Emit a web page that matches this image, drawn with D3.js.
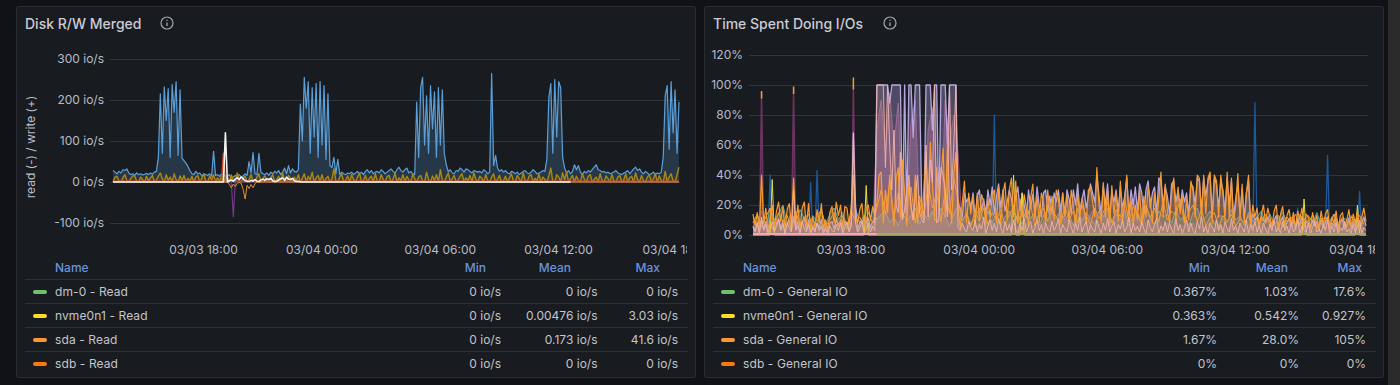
<!DOCTYPE html>
<html>
<head>
<meta charset="utf-8">
<script src="https://cdn.jsdelivr.net/npm/d3@7"></script>
<style>
  html, body { margin: 0; padding: 0; background: #111217; overflow: hidden; }
  svg { display: block; font-family: Inter, "Noto Sans", sans-serif; }
  .tick text { fill: #b9bcc6; font-size: 12px; font-family: Inter, sans-serif; }
  .tick line { stroke: rgba(204,204,220,0.15); }
  .domain { display: none; }
</style>
</head>
<body>
<svg id="chart"></svg>
<script>
// ───────────────── DATA : shared ─────────────────
const startTime = new Date(2024, 2, 3, 13, 26);
const stepMinutes = 6;
const timeTicks = [
  new Date(2024, 2, 3, 18, 0),
  new Date(2024, 2, 4, 0, 0),
  new Date(2024, 2, 4, 6, 0),
  new Date(2024, 2, 4, 12, 0),
  new Date(2024, 2, 4, 18, 0)
];

// ───────────────── DATA : Disk R/W Merged ─────────────────
const mergedTicks = [-100, 0, 100, 200, 300];

const mergedWriteBlue = [
  28,24,20,26,22,30,28,32,22,18,20,16,22,18,20,17,19,21,18,22,
  19,24,26,60,215,70,232,150,228,60,238,170,245,65,225,58,52,46,38,28,
  20,18,26,20,22,15,20,18,16,20,14,75,16,18,14,20,17,15,14,18,
  10,12,16,14,18,12,15,20,16,50,22,72,20,18,70,24,20,18,22,16,
  24,20,26,22,28,18,24,34,20,40,22,32,26,24,30,190,100,255,180,245,
  70,230,110,240,60,245,90,235,55,215,40,35,60,20,55,18,24,20,18,22,
  20,24,18,22,26,20,24,18,26,30,22,28,20,24,26,22,30,26,20,24,
  28,32,26,22,30,36,28,24,30,34,22,26,20,18,195,60,230,255,90,210,
  70,235,130,220,60,230,90,225,70,42,25,30,22,20,28,26,34,30,24,32,
  30,26,22,28,26,24,26,22,30,26,20,24,265,40,65,34,26,30,24,28,
  22,20,26,24,20,24,18,22,26,28,22,20,24,30,26,20,22,24,28,26,
  55,205,240,70,250,110,245,230,60,34,22,28,20,26,42,30,40,24,18,26,
  22,28,24,30,36,42,30,28,24,26,22,24,20,22,24,28,22,20,18,22,
  24,28,20,26,32,36,28,32,24,20,26,22,18,20,24,18,22,20,24,60,
  210,235,80,245,120,225,70,195
];

const mergedWriteOlive = [
  0,12,14,3,0,10,18,4,0,8,15,15,2,0,12,6,0,14,3,10,
  16,0,5,14,22,8,0,18,4,12,0,20,6,0,15,3,16,0,9,2,
  14,0,12,16,0,8,20,3,0,14,5,18,0,10,2,15,0,6,12,0,
  17,3,0,22,5,0,10,14,0,6,18,2,0,12,20,0,8,15,3,0,
  10,18,0,6,14,0,22,4,0,16,8,0,12,3,18,0,9,20,0,14,
  5,24,0,10,16,2,18,0,8,14,0,6,32,4,0,12,20,0,5,15,
  0,18,6,0,12,22,0,4,16,0,9,14,0,20,3,0,18,6,0,13,
  16,0,7,22,0,10,3,18,0,14,5,0,20,8,0,12,16,2,0,24,
  6,0,15,3,18,0,30,4,0,12,22,0,8,16,0,5,14,20,0,10,
  3,16,0,22,6,0,14,9,0,18,4,0,12,20,0,7,16,0,3,14,
  0,10,20,4,0,16,8,0,22,5,0,14,18,0,9,3,20,0,12,6,
  0,16,34,2,0,18,12,0,22,5,24,0,8,16,0,14,4,0,20,7,
  0,14,18,0,6,12,0,20,4,0,15,8,0,18,3,0,12,16,0,5,
  20,0,10,14,0,22,6,0,16,3,0,12,18,0,8,20,0,15,4,0,
  26,0,12,20,3,0,18,36
];

// sparse series: sample number + value
const mergedRedIdx = [0, 55, 56, 57, 287];
const mergedRedVals = [2, 2, 70, 2, 2];

const mergedWhiteIdx = [0,56,57,58,59,60,61,62,63,64,65,66,67,68,69,70,71,72,73,74,75,76,77,78,79,80,81,82,83,84,85,86,87,88,89,90,91,92,93,94,95,232];
const mergedWhiteVals = [0,0,120,0,3,5,2,7,10,6,12,8,3,2,1,4,2,6,2,1,5,7,4,8,6,9,3,1,2,5,8,10,4,12,7,6,9,3,1,2,0,0];

const mergedReadOrangeIdx = [0,58,59,60,61,62,63,64,65,66,67,68,69,70,71,72,73,287];
const mergedReadOrangeVals = [0,0,-6,-14,-5,-11,-3,-1,-3,-18,-41.6,-8,-16,-6,-14,-4,0,0];

const mergedPurpleIdx = [0, 60, 61, 62, 287];
const mergedPurpleVals = [0, 0, -85, 0, 0];

// ───────────────── DATA : Time Spent Doing I/Os ─────────────────
const ioTicks = [0, 20, 40, 60, 80, 100, 120];

const ioOrange = [
  14,6,15,4,40,8,18,3,12,20,5,16,22,9,19,4,17,21,6,38,
  7,20,4,18,22,6,21,3,12,5,17,8,21,4,10,3,15,19,8,22,
  13,20,5,19,18,6,20,40,12,8,17,21,6,18,20,10,19,14,21,40,
  42,8,30,15,40,22,6,38,45,12,50,28,6,35,18,10,40,8,22,12,
  30,55,18,62,35,10,45,22,40,58,12,60,25,8,40,55,18,5,22,36,
  8,28,14,26,5,28,10,27,22,6,24,12,26,30,8,32,6,28,35,10,
  30,38,12,36,8,24,12,27,18,6,25,34,10,26,8,28,22,7,30,14,
  26,10,30,24,8,28,13,27,9,30,20,6,28,12,24,18,8,30,32,22,
  12,45,20,8,35,12,30,6,33,14,28,9,36,8,22,40,12,24,7,20,
  10,30,6,26,12,32,24,8,28,10,24,42,12,34,16,8,28,38,10,32,
  14,26,8,24,10,36,30,12,40,38,10,40,14,38,42,8,40,36,12,40,
  28,10,42,12,38,8,20,41,10,34,8,28,40,6,20,12,18,5,14,20,
  8,18,12,6,16,20,5,14,19,6,13,17,7,15,5,16,10,18,6,14,
  12,5,15,8,13,4,16,7,14,17,5,12,8,16,4,13,15,6,10,17,
  5,14,8,16,4,12,18,9
];

const ioLavender = [
  6,3,8,2,10,4,9,2,7,5,3,8,11,4,9,2,7,10,3,12,
  4,9,2,8,12,3,10,2,6,3,8,5,10,2,6,2,8,9,4,11,
  6,10,3,9,8,3,9,68,20,4,8,10,3,9,11,5,9,8,100,100,
  100,100,100,100,88,100,100,100,100,100,12,100,15,100,100,65,100,100,100,20,
  10,100,100,100,70,100,100,14,100,100,100,60,100,100,100,100,20,18,12,28,
  22,25,18,28,12,26,30,16,24,14,30,20,32,14,26,34,18,30,16,22,
  30,24,14,26,32,16,28,20,12,30,18,27,14,32,20,12,28,30,16,26,
  14,28,22,30,16,28,12,30,24,14,30,20,34,16,24,30,18,26,34,28,
  22,40,26,14,33,20,34,12,28,22,30,16,32,18,26,38,14,30,20,32,
  16,34,28,14,30,36,18,28,32,14,38,36,20,32,26,14,34,36,22,30,
  18,30,22,28,14,34,32,20,38,36,16,38,26,36,40,14,38,34,18,36,
  30,16,38,20,36,12,24,34,14,30,12,28,36,8,14,10,12,6,12,10,
  8,12,9,5,10,13,4,9,12,5,8,11,6,10,4,11,7,12,5,9,
  8,4,10,6,9,3,11,5,9,12,4,8,6,11,3,9,10,4,7,11,
  4,9,6,11,3,8,12,6
];

const ioPink = [
  5,2,8,1,12,3,7,1,4,9,2,6,10,3,7,1,8,5,2,30,
  3,6,1,9,4,2,7,1,5,2,8,3,6,1,4,1,6,3,2,7,
  3,8,1,5,9,2,6,68,8,2,5,9,1,4,8,2,6,3,100,100,
  100,100,45,100,60,30,70,20,15,55,10,18,30,40,20,10,25,40,15,10,
  8,60,12,50,35,100,8,10,45,40,30,12,100,30,60,100,5,3,8,4,
  2,9,5,3,10,2,7,4,12,1,6,10,3,8,2,11,5,1,9,3,
  7,2,10,4,1,8,3,11,2,6,9,1,5,10,3,7,1,8,4,2,
  9,3,6,11,1,7,4,2,10,5,1,8,3,12,2,6,9,1,7,4,
  2,10,5,1,8,3,11,2,6,9,1,7,4,10,2,5,12,1,8,3,
  6,2,9,4,1,10,5,2,7,11,1,6,3,9,2,8,4,1,11,3,
  7,1,5,10,2,8,3,1,9,4,12,2,6,1,8,5,2,10,3,7,
  1,9,4,2,11,3,6,1,8,5,2,10,1,7,3,9,2,6,1,8,
  4,1,7,3,10,2,5,1,9,3,6,1,8,2,4,10,1,6,3,2,
  8,1,5,9,2,4,1,7,3,10,1,6,2,8,1,5,3,9,2,4,
  1,7,2,6,10,1,5,3
];

// these three are read at every second sample
const ioOrangeLow = [
  8,14,5,12,18,6,15,9,13,4,16,7,11,14,5,12,17,6,10,15,
  7,13,4,16,9,12,6,15,8,18,30,14,35,12,28,10,22,32,8,26,
  12,34,18,28,9,30,14,38,24,10,14,6,16,9,18,7,15,10,17,6,
  14,18,8,16,11,20,6,15,18,9,17,12,7,19,10,16,8,20,13,7,
  18,11,15,22,8,17,12,24,9,19,14,7,20,12,18,9,22,10,16,13,
  24,8,15,20,9,17,6,12,15,5,13,9,14,6,11,8,13,5,12,9,
  14,6,10,13,5,12,8,14,6,11,9,13,5,10,12,6,14,8,11,5,
  12,9,13,7
];

const ioTeal = [
  12,8,16,5,18,10,14,20,8,15,6,17,11,5,13,9,16,7,14,18,
  10,15,6,12,18,8,13,5,17,10,14,16,8,12,6,15,9,13,18,7,
  14,10,16,8,18,12,6,14,20,9,15,7,12,18,10,16,8,14,6,12,
  16,9,14,7,18,11,15,6,13,17,8,12,16,10,14,6,18,9,15,11,
  7,16,12,18,8,14,10,17,6,13,15,9,18,11,7,16,12,14,8,17,
  10,13,6,15,18,9,12,16,7,14,11,8,17,10,13,6,15,9,12,16,
  8,14,7,11,15,9,12,6,14,10,13,8,15,7,11,9,14,6,12,10,
  13,8,11,9
];

const ioMaroon = [
  6,3,9,2,8,4,10,3,7,5,9,2,6,8,3,7,4,9,2,6,
  8,3,5,9,2,7,4,8,3,70,90,55,95,60,88,8,10,75,90,12,
  8,70,85,40,6,90,60,80,55,3,7,5,2,9,4,6,8,3,7,5,
  9,4,6,2,8,5,7,3,9,4,14,6,18,8,12,5,16,20,7,14,
  18,6,12,22,8,16,10,20,14,24,9,18,6,12,7,10,4,8,5,9,
  3,7,5,8,2,6,4,9,3,7,5,2,8,4,6,3,7,2,5,8,
  4,6,3,7,2,5,8,3,6,4,7,2,5,3,6,4,8,2,5,7,
  3,6,4,5
];

// sparse series: sample number + value
const ioPurpleIdx = [0,3,4,5,18,19,20,46,47,48,287];
const ioPurpleVals = [0,0,95,0,0,98,0,0,100,0,0];

const ioBlueIdx = [0,7,8,9,26,27,28,29,30,31,112,113,114,234,235,236,254,255,256,268,269,270,283,284,285,287];
const ioBlueVals = [0,0,40,0,0,35,0,0,43,0,0,80,0,0,88,0,0,18,0,0,53,0,0,29,0,0];

const ioYellowIdx = [0,8,9,10,52,53,54,121,122,123,125,126,127,257,258,259,282,283,284,287];
const ioYellowVals = [0,0,37,0,0,33,0,0,40,0,0,28,0,0,24,0,0,20,0,0];

// orange tips on top of the three tall purple spikes
const ioTipIdx = [4, 19, 47];
const ioTipLow = [91, 94, 97];
const ioTipHigh = [96, 99, 105];

const ioBaseIdx = [0, 58];
const ioBaseVals = [0.6, 0.6];
const ioGreenIdx = [58, 287];
const ioGreenVals = [0.6, 0.6];

// ───────────────── DATA : tables ─────────────────
const mergedNames = ["dm-0 - Read", "nvme0n1 - Read", "sda - Read", "sdb - Read"];
const mergedMin = ["0 io/s", "0 io/s", "0 io/s", "0 io/s"];
const mergedMean = ["0 io/s", "0.00476 io/s", "0.173 io/s", "0 io/s"];
const mergedMax = ["0 io/s", "3.03 io/s", "41.6 io/s", "0 io/s"];

const ioNames = ["dm-0 - General IO", "nvme0n1 - General IO", "sda - General IO", "sdb - General IO"];
const ioMin = ["0.367%", "0.363%", "1.67%", "0%"];
const ioMean = ["1.03%", "0.542%", "28.0%", "0%"];
const ioMax = ["17.6%", "0.927%", "105%", "0%"];

const legendColors = ["#73BF69", "#FADE2A", "#FF9830", "#FF780A"];

// ───────────────── SIZE ─────────────────
const W = 1400;
const H = 385;

const svg = d3.select("#chart")
  .attr("width", W)
  .attr("height", H)
  .attr("viewBox", `0 0 ${W} ${H}`);

svg.append("rect")
  .attr("x", 1388).attr("y", 0)
  .attr("width", 12).attr("height", H)
  .attr("fill", "#2b2b2b");

const defs = svg.append("defs");

// ───────────────── HELPERS ─────────────────
const sampleTime = i =>
  new Date(startTime.getTime() + i * stepMinutes * 60000);

const fromDense = (vals, every = 1) =>
  vals.map((v, i) => ({ t: sampleTime(i * every), v }));

const fromSparse = (idx, vals) =>
  idx.map((i, k) => ({ t: sampleTime(i), v: vals[k] }));

function drawPanel(p) {
  // ───── FRAME ─────
  svg.append("rect")
    .attr("x", p.x + 0.5).attr("y", 6.5)
    .attr("width", p.w).attr("height", 371)
    .attr("rx", 2)
    .attr("fill", "#181b1f")
    .attr("stroke", "rgba(204,204,220,0.12)");

  svg.append("text")
    .attr("x", p.x + 9).attr("y", 29)
    .attr("fill", "#ccccd4")
    .style("font-size", "14px")
    .style("font-weight", "500")
    .text(p.title);

  // ───── INFO ICON ─────
  const icon = svg.append("g")
    .attr("transform", `translate(${p.iconX},23)`)
    .attr("stroke", "#a3a6ae")
    .attr("fill", "none");
  icon.append("circle").attr("r", 6).attr("stroke-width", 1.2);
  icon.append("line").attr("y1", -0.5).attr("y2", 3).attr("stroke-width", 1.3);
  icon.append("circle").attr("cy", -2.8).attr("r", 0.7).attr("fill", "#a3a6ae").attr("stroke", "none");

  // ───── SCALE ─────
  const xScale = d3.scaleTime()
    .domain([sampleTime(0), sampleTime(287)])
    .range(p.xRange);

  const yScale = d3.scaleLinear()
    .domain(p.yDomain)
    .range(p.yRange);

  // ───── AXES ─────
  svg.append("g")
    .attr("transform", `translate(${p.gridLeft},0)`)
    .call(
      d3.axisLeft(yScale)
        .tickValues(p.yTicks)
        .tickSizeInner(-(p.gridRight - p.gridLeft))
        .tickSizeOuter(0)
        .tickPadding(6)
        .tickFormat(p.yFormat)
    );

  defs.append("clipPath").attr("id", p.id + "-labels")
    .append("rect")
    .attr("x", p.x).attr("y", 0)
    .attr("width", p.labelClip - p.x).attr("height", H);

  svg.append("g")
    .attr("transform", `translate(0,${p.axisY})`)
    .attr("clip-path", `url(#${p.id}-labels)`)
    .call(
      d3.axisBottom(xScale)
        .tickValues(timeTicks)
        .tickSizeInner(-(p.axisY - p.gridTop))
        .tickSizeOuter(0)
        .tickPadding(p.xPad)
        .tickFormat(d3.timeFormat("%m/%d %H:%M"))
    );

  // ───── SERIES ─────
  const plot = svg.append("g");

  const line = d3.line()
    .x(d => xScale(d.t))
    .y(d => yScale(d.v));

  const area = d3.area()
    .x(d => xScale(d.t))
    .y0(yScale(0))
    .y1(d => yScale(d.v));

  p.series.forEach(s => {
    if (s.fill) {
      plot.append("path")
        .datum(s.points)
        .attr("d", area)
        .attr("fill", s.color)
        .attr("opacity", s.fill);
    }
    plot.append("path")
      .datum(s.points)
      .attr("d", line)
      .attr("fill", "none")
      .attr("stroke", s.color)
      .attr("stroke-width", s.width || 1)
      .attr("stroke-opacity", s.opacity || 1)
      .attr("stroke-linejoin", "round");
  });

  // ───── TABLE ─────
  const table = svg.append("g");
  const header = (text, x, anchor) =>
    table.append("text")
      .attr("x", x).attr("y", 267.5).attr("dy", ".35em")
      .attr("text-anchor", anchor)
      .attr("fill", "#6a94dd")
      .style("font-size", "12px")
      .style("font-weight", "500")
      .text(text);

  header("Name", p.x + 39, "start");
  header("Min", p.headX[0], "end");
  header("Mean", p.headX[1], "end");
  header("Max", p.headX[2], "end");

  const rowY = d3.scalePoint()
    .domain(d3.range(4))
    .range([291.5, 363.5]);

  p.names.forEach((name, i) => {
    const y = rowY(i);
    table.append("line")
      .attr("x1", p.x + 9).attr("x2", p.rowEnd)
      .attr("y1", y - 12).attr("y2", y - 12)
      .attr("stroke", "rgba(204,204,220,0.12)");

    table.append("rect")
      .attr("x", p.x + 17).attr("y", y - 1.5)
      .attr("width", 14).attr("height", 4)
      .attr("rx", 2)
      .attr("fill", legendColors[i]);

    const cell = (text, x, anchor) =>
      table.append("text")
        .attr("x", x).attr("y", y).attr("dy", ".35em")
        .attr("text-anchor", anchor)
        .attr("fill", "#c3c5cd")
        .style("font-size", "12px")
        .text(text);

    cell(name, p.x + 39, "start").style("letter-spacing", "0.1px");
    cell(p.min[i], p.cellX[0], "end");
    cell(p.mean[i], p.cellX[1], "end");
    cell(p.max[i], p.cellX[2], "end");
  });
}

// ───────────────── PANEL : Disk R/W Merged ─────────────────
drawPanel({
  id: "merged",
  title: "Disk R/W Merged",
  x: 16, w: 679, iconX: 167,
  xRange: [113, 679],
  yDomain: [-100, 300], yRange: [223, 59],
  yTicks: mergedTicks,
  yFormat: d => d + " io/s",
  gridLeft: 110, gridRight: 680, gridTop: 56,
  axisY: 240, xPad: 5, labelClip: 687,
  names: mergedNames, min: mergedMin, mean: mergedMean, max: mergedMax,
  headX: [486, 571, 660], cellX: [501, 597.5, 678], rowEnd: 688,
  series: [
    { points: fromDense(mergedWriteBlue), color: "#5b9fd9", fill: 0.22, width: 1.2 },
    { points: fromDense(mergedWriteOlive), color: "#ad870f", fill: 0.15, width: 1.4 },
    { points: fromSparse(mergedRedIdx, mergedRedVals), color: "#c8472f", width: 1.5 },
    { points: fromSparse(mergedPurpleIdx, mergedPurpleVals), color: "#6f3a80", width: 1.2 },
    { points: fromSparse(mergedReadOrangeIdx, mergedReadOrangeVals), color: "#e0912c", width: 1 },
    { points: fromSparse(mergedWhiteIdx, mergedWhiteVals), color: "#f4f4f0", width: 1.6 }
  ]
});

d3.select("#chart").append("text")
  .attr("transform", "translate(35,147) rotate(-90)")
  .attr("text-anchor", "middle")
  .attr("fill", "#b9bcc6")
  .style("font-size", "12px")
  .text("read (-) / write (+)");

// ───────────────── PANEL : Time Spent Doing I/Os ─────────────────
drawPanel({
  id: "io",
  title: "Time Spent Doing I/Os",
  x: 704, w: 679, iconX: 890,
  xRange: [753, 1366],
  yDomain: [0, 120], yRange: [235, 55],
  yTicks: ioTicks,
  yFormat: d => d + "%",
  gridLeft: 749, gridRight: 1368, gridTop: 55,
  axisY: 238, xPad: 7, labelClip: 1375,
  names: ioNames, min: ioMin, mean: ioMean, max: ioMax,
  headX: [1210, 1288, 1362], cellX: [1217, 1299, 1366], rowEnd: 1376,
  series: [
    { points: fromSparse(ioBlueIdx, ioBlueVals), color: "#1c5a9a", width: 1.3 },
    { points: fromDense(ioMaroon, 2), color: "#8f4a6a", fill: 0.55, width: 1 },
    { points: fromDense(ioTeal, 2), color: "#5fa3a0", fill: 0.35, width: 1 },
    { points: fromSparse(ioPurpleIdx, ioPurpleVals), color: "#6f3560", fill: 0.6, width: 1.4 },
    { points: fromDense(ioLavender), color: "#b8a6e0", fill: 0.35, width: 1.3 },
    { points: fromSparse(ioYellowIdx, ioYellowVals), color: "#e8df3a", width: 1 },
    { points: fromDense(ioOrangeLow, 2), color: "#f79a2f", fill: 0.12, width: 1 },
    { points: fromDense(ioOrange), color: "#f79a2f", fill: 0.2, width: 1.2 },
    { points: fromDense(ioPink), color: "#f2b3a8", fill: 0.1, width: 0.9 },
    ...ioTipIdx.map((i, k) => ({
      points: fromSparse([i, i], [ioTipLow[k], ioTipHigh[k]]),
      color: "#f79a2f",
      width: 1.5
    })),
    { points: fromSparse(ioBaseIdx, ioBaseVals), color: "#f3a6b8", width: 2 },
    { points: fromSparse(ioGreenIdx, ioGreenVals), color: "#a8a86c", width: 2 }
  ]
});
</script>
</body>
</html>
